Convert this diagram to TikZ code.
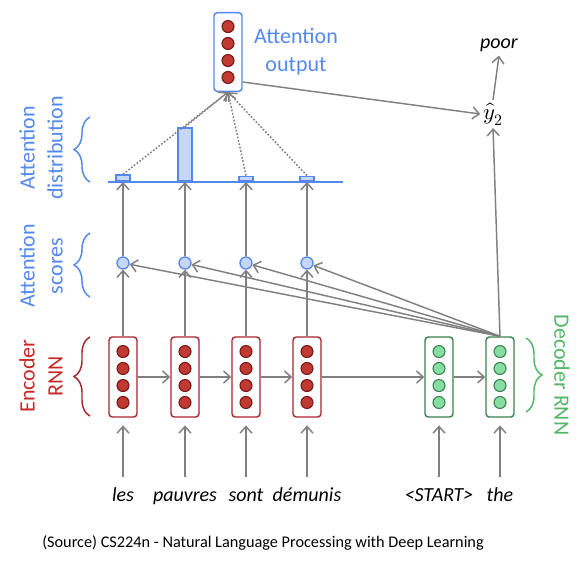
\documentclass[tikz,border=0pt]{standalone}
\usepackage{unicode-math}
\setmathfont{Latin Modern Math}
\newfontfamily\calfont{Carlito}
\usetikzlibrary{arrows.meta,decorations.pathreplacing}

\definecolor{arrgray}{RGB}{128,128,128}
\definecolor{attblue}{RGB}{84,136,238}
\definecolor{attfill}{RGB}{198,215,250}
\definecolor{encline}{RGB}{168,38,48}
\definecolor{encfill}{RGB}{192,57,50}
\definecolor{encdark}{RGB}{118,22,22}
\definecolor{encword}{RGB}{196,40,40}
\definecolor{decline}{RGB}{58,128,78}
\definecolor{decfill}{RGB}{134,222,162}
\definecolor{decword}{RGB}{84,182,104}

\begin{document}
\begin{tikzpicture}[x=0.75pt,y=0.75pt,yscale=-1,xscale=1,
  arr/.style={draw=arrgray, line width=1.1pt, -{Straight Barb[length=5pt,width=9pt]}},
  dotarr/.style={arr, dash pattern=on 1.3pt off 1.3pt},
  rnnbox/.style={draw, rounded corners=2.5pt, line width=1.1pt, fill=white, minimum width=21pt, minimum height=60pt, inner sep=0pt},
  encdots/.style={circle, draw=encdark, fill=encfill, line width=0.8pt, minimum size=9pt, inner sep=0pt},
  decdots/.style={circle, draw=decline, fill=decfill, line width=0.8pt, minimum size=9pt, inner sep=0pt},
  scoredot/.style={circle, draw=attblue, fill=attfill, line width=1pt, minimum size=9pt, inner sep=0pt},
  barbox/.style={draw=attblue, fill=attfill, line width=1.3pt, minimum width=10.5pt, inner sep=0pt, anchor=south},
  wordlabel/.style={font=\calfont\itshape\fontsize{15}{18}\selectfont, text height=10pt, text depth=3pt, inner sep=2pt},
  sidelabel/.style={font=\calfont\fontsize{16.5}{21}\selectfont, align=center, inner sep=0pt},
  bracesty/.style={decorate, decoration={brace, amplitude=12pt}, line width=1.1pt}
]
\useasboundingbox (0,0) rectangle (588,562);

%Encoder and decoder boxes
\foreach \n/\x in {1/123,2/185,3/246,4/307}
  \node (enc\n) at (\x,377) [rnnbox, draw=encline] {};
\node (dec1) at (439,377) [rnnbox, draw=decline] {};
\node (dec2) at (500,377) [rnnbox, draw=decline] {};
\node (attout) at (228,52) [rnnbox, draw=attblue, minimum height=59pt] {};
\foreach \b in {enc1,enc2,enc3,enc4,attout}
  \foreach \d in {-19.1,-6.4,6.4,19.1}
    \node at ([yshift=\d pt]\b.center) [encdots] {};
\foreach \b in {dec1,dec2}
  \foreach \d in {-19.1,-6.4,6.4,19.1}
    \node at ([yshift=\d pt]\b.center) [decdots] {};

%Input words
\foreach \n/\x/\w in {1/123/les,2/185/pauvres,3/246/sont,4/307/démunis}
  \node (w\n) at (\x,497) [wordlabel] {\w};
\node (w5) at (439,497) [wordlabel] {<START>};
\node (w6) at (500,497) [wordlabel] {the};

%Attention scores and distribution
\draw [attblue, line width=1.4pt] (108,182) -- (343,182);
\foreach \n/\x/\h in {1/123/4.5,2/185/40,3/246/3.5,4/307/3.5}{
  \node (score\n) at (\x,263) [scoredot] {};
  \node (bar\n) at (\x,182) [barbox, minimum height=\h pt] {};
}

%Output
\node (yhat) at (493,114) [inner sep=2pt, font=\fontsize{17}{20}\selectfont] {$\hat{y}_2$};
\node (poor) at (499,44) [wordlabel] {poor};

%Connectors
\foreach \n in {1,...,6}
  \draw [arr, shorten <=6.5pt] (w\n.north) -- ++(0,-60);
\draw [arr] (enc1.east) -- (enc2.west);
\draw [arr] (enc2.east) -- (enc3.west);
\draw [arr] (enc3.east) -- (enc4.west);
\draw [arr] (enc4.east) -- (dec1.west);
\draw [arr] (dec1.east) -- (dec2.west);
\foreach \n in {1,...,4}{
  \draw [arr] (enc\n.north) -- (score\n.south);
  \draw [arr] (dec2.north) -- (score\n);
  \draw [arr] (score\n.north) -- (bar\n.south);
  \draw [dotarr] (bar\n.north) -- (attout.south);
}
\draw [arr] ([yshift=22.5pt]attout.east) -- (yhat.west);
\draw [arr] (dec2.north) -- (yhat.south);
\draw [arr] (yhat.north) -- (poor.south);

%Side labels and braces
\draw [bracesty, attblue] (90,182) -- (90,117);
\draw [bracesty, attblue] (90,297) -- (90,233);
\draw [bracesty, encline] (90,416) -- (90,337);
\draw [bracesty, decword] (526,338) -- (526,412);
\node (lbldist) at (41,148) [sidelabel, attblue, rotate=90] {Attention\\distribution};
\node (lblscore) at (41,266) [sidelabel, attblue, rotate=90] {Attention\\scores};
\node (lblenc) at (41,376) [sidelabel, encword, rotate=90] {Encoder\\RNN};
\node (lbldec) at (562,375) [sidelabel, decword, rotate=-90] {Decoder RNN};
\node (lblout) at (296,52) [sidelabel, attblue] {Attention\\output};

% Text Node
\node (caption) at (263,543) [font=\calfont\fontsize{12.2}{14}\selectfont] {(Source) CS224n - Natural Language Processing with Deep Learning};

\end{tikzpicture}
\end{document}
